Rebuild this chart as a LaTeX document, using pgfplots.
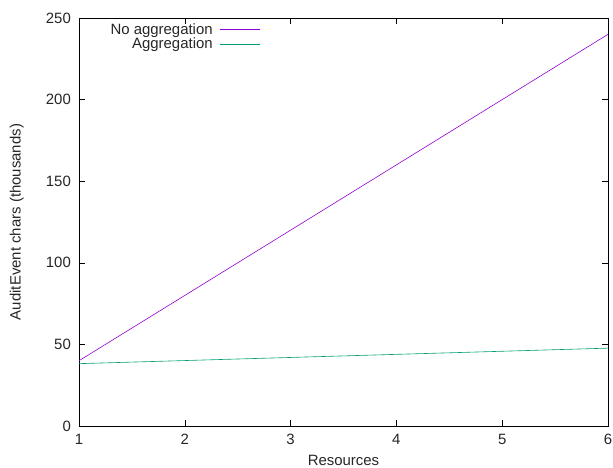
\documentclass[border=0pt]{standalone}
\usepackage{pgfplots}
\pgfplotsset{compat=1.18}
\usepackage{fontspec}
\setmainfont{Liberation Sans}
\definecolor{gpviolet}{HTML}{9400D3}
\definecolor{gpgreen}{HTML}{009E73}
\begin{document}
\fontsize{15}{17}\selectfont
\begin{tikzpicture}
\begin{axis}[
  at={(0,0)}, anchor=south west,
  scale only axis,
  width=529bp, height=408bp,
  xmin=1, xmax=6, ymin=0, ymax=250,
  xtick={1,2,3,4,5,6},
  ytick={0,50,100,150,200,250},
  tick align=inside,
  major tick length=6bp,
  tick style={black, line width=0.5pt},
  axis line style={black, line width=0.8pt},
  xlabel={Resources},
  ylabel={AuditEvent chars (thousands)},
  xlabel style={yshift=0bp},
  ylabel style={yshift=12bp},
  /pgf/number format/assume math mode=true,
  tick label style={font=\fontsize{15}{17}\selectfont, text=black!85},
  xticklabel style={yshift=-3bp},
  yticklabel style={xshift=-3bp},
  label style={font=\fontsize{15}{17}\selectfont, text=black!85},
  legend style={draw=none, fill=none, at={(0.345,0.995)}, anchor=north east,
    font=\fontsize{15}{15}\selectfont, row sep=-3bp, column sep=5bp,
    inner sep=1bp, text=black!85},
  legend cell align=right,
  legend plot pos=right,
  legend image code/.code={\draw[#1] plot coordinates {(0bp,0bp) (40bp,0bp)};},
]
\addplot[gpviolet, line width=0.6pt] coordinates {(1,40) (2,80) (3,120) (4,160) (5,200) (6,240)};
\addlegendentry{No aggregation}
\addplot[gpgreen, line width=0.6pt] coordinates {(1,38.2) (2,40.1) (3,42.0) (4,43.9) (5,45.8) (6,47.7)};
\addlegendentry{Aggregation}
\end{axis}
\pgfresetboundingbox
\useasboundingbox (-79bp,-42bp) rectangle (534bp,426bp);
\end{tikzpicture}
\end{document}
